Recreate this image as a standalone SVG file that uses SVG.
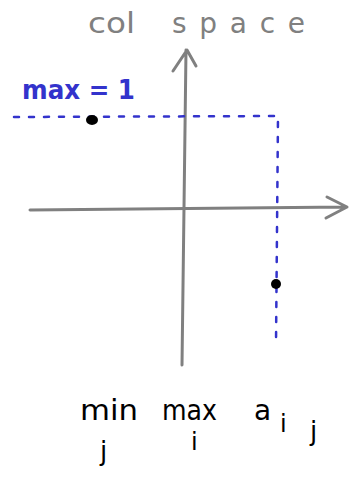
<svg xmlns="http://www.w3.org/2000/svg" width="358" height="485" viewBox="0 0 358 485">
<style>
.axis{stroke:#808080;stroke-width:3;fill:none;stroke-linecap:round;stroke-linejoin:round}
.dash{stroke:#3333cc;stroke-width:2.5;fill:none;stroke-dasharray:5 10;stroke-linecap:round}
.gray{font-family:"DejaVu Sans",sans-serif;fill:#808080}
.blue{font-family:"DejaVu Sans",sans-serif;fill:#3333cc;font-weight:bold}
.ink{font-family:"DejaVu Sans",sans-serif;fill:#000}
</style>
<rect width="358" height="485" fill="#fff"/>
<g id="title"><text class="gray" x="88" y="33" font-size="28" textLength="47" lengthAdjust="spacingAndGlyphs">col</text>
<text class="gray" x="172" y="33" font-size="28" textLength="133" lengthAdjust="spacing">space</text></g>
<g id="label-max"><text class="blue" x="22" y="99" font-size="27" textLength="113" lengthAdjust="spacingAndGlyphs">max = 1</text></g>
<g id="connectors">
<path class="axis" d="M182 365 L186 50 M173 71 L187 50 L196 66"/>
<path class="axis" d="M30 210 L346 207 M327 197 L347 207 L326 218"/>
<path class="dash" d="M14 117 L278 116 L276 344"/>
</g>
<g id="point1"><ellipse cx="92" cy="120" rx="6" ry="5" fill="#000"/></g>
<g id="point2"><circle cx="276" cy="284" r="5" fill="#000"/></g>
<g id="formula">
<text class="ink" x="80" y="420" font-size="28" textLength="58" lengthAdjust="spacingAndGlyphs">min</text>
<text class="ink" x="100" y="460" font-size="26">j</text>
<text class="ink" x="162" y="420" font-size="28" textLength="55" lengthAdjust="spacingAndGlyphs">max</text>
<text class="ink" x="191" y="450" font-size="24">i</text>
<text class="ink" x="254" y="420" font-size="28">a</text>
<text class="ink" x="280" y="432" font-size="24">i</text>
<text class="ink" x="310" y="440" font-size="26">j</text>
</g>
</svg>
